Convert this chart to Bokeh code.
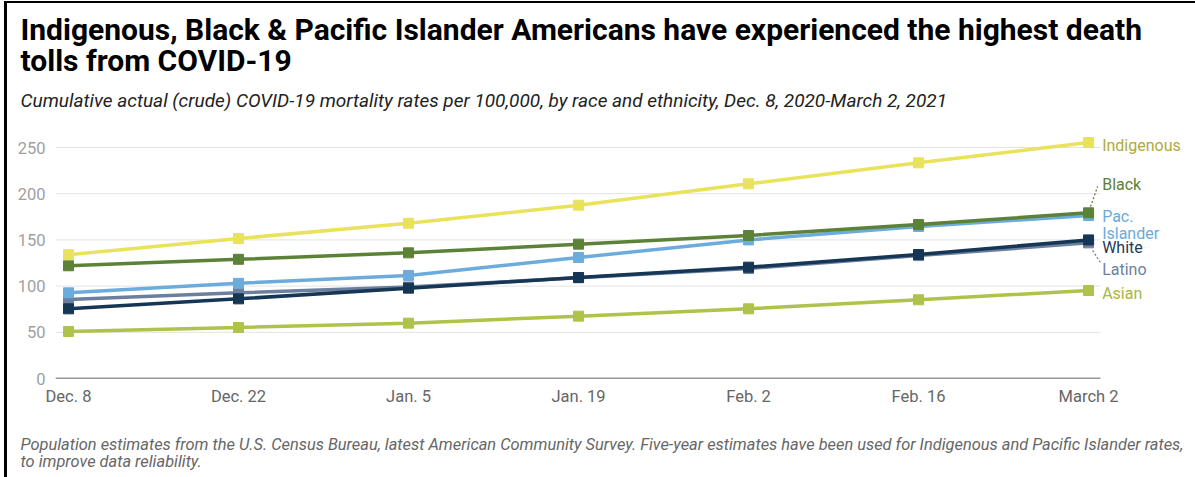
from bokeh.plotting import figure
from bokeh.models import LabelSet, ColumnDataSource, FixedTicker, Range1d, Title
from bokeh.core.properties import value
from bokeh.embed import file_html
from bokeh.resources import INLINE

dates = ["Dec. 8", "Dec. 22", "Jan. 5", "Jan. 19", "Feb. 2", "Feb. 16", "March 2"]
indigenous = [134, 151.5, 168, 187.6, 210.7, 233.4, 255.4]
black = [122, 129, 136, 145.4, 154.8, 166.7, 179.3]
pac_islander = [92.7, 103, 111.5, 131, 150, 164.5, 176.4]
latino = [85.5, 92.7, 99, 109, 119, 133, 146.8]
white = [75.4, 86.2, 97.8, 109.3, 120.5, 134.2, 150]
asian = [50.9, 55.2, 59.9, 67.5, 75.4, 85.2, 95.2]
y_ticks = [0, 50, 100, 150, 200, 250]

title_lines = ["Indigenous, Black & Pacific Islander Americans have experienced the highest death",
               "tolls from COVID-19"]
subtitle = "Cumulative actual (crude) COVID-19 mortality rates per 100,000, by race and ethnicity, Dec. 8, 2020-March 2, 2021"
footnote_lines = ["Population estimates from the U.S. Census Bureau, latest American Community Survey. Five-year estimates have been used for Indigenous and Pacific Islander rates,",
                  "to improve data reliability."]

series = [
    ("Asian", asian, "#afc24a", "#a6b840"),
    ("Latino", latino, "#6c7f9e", "#6b7fa0"),
    ("White", white, "#163656", "#1c3b5a"),
    ("Pac. Islander", pac_islander, "#6cacdd", "#6aaadb"),
    ("Black", black, "#5c8238", "#5b8138"),
    ("Indigenous", indigenous, "#e9e25c", "#b0ab3a"),
]

# label placement (positions, not data)
label_pos = {
    "Indigenous": [252.2],
    "Black": [210],
    "Pac. Islander": [175.3, 157],
    "White": [141.8],
    "Latino": [118],
    "Asian": [92],
}

W, H = 1195, 477
FL = 55              # frame left
FT = 124             # frame top
Y0_PX = 378          # pixel row of value 0
PX_PER_UNIT = 0.924
FB = 99              # bottom border (frame bottom at 378)
x = list(range(len(dates)))
X_LO, X_HI = -0.0765, 6.629
GRID_END = 6.07
Y_HI = (Y0_PX - FT) / PX_PER_UNIT

ASC, DESC = 0.928, 0.244   # Roboto metrics

p = figure(width=W, height=H, output_backend="svg", toolbar_location=None, title=None,
           x_range=Range1d(X_LO, X_HI), y_range=Range1d(0, Y_HI),
           min_border_left=FL, min_border_right=0, min_border_top=FT, min_border_bottom=FB)
p.outline_line_color = None
p.background_fill_color = "white"
p.border_fill_color = None
p.styles = {"background-color": "white",
            "box-shadow": "inset 4px 1px 0 0 white, inset 7px 3px 0 0 black"}
p.xgrid.grid_line_color = None
p.ygrid.grid_line_color = None

p.yaxis.ticker = FixedTicker(ticks=y_ticks)
p.yaxis.axis_line_color = None
p.yaxis.major_tick_line_color = None
p.yaxis.minor_tick_line_color = None
p.yaxis.major_tick_out = 0
p.yaxis.minor_tick_out = 0
p.yaxis.major_label_text_color = "#a0a0a0"
p.yaxis.major_label_text_font = "Roboto"
p.yaxis.major_label_text_font_size = "16.5px"
p.yaxis.major_label_standoff = 10

p.xaxis.ticker = FixedTicker(ticks=x)
p.xaxis.major_label_overrides = {i: d for i, d in enumerate(dates)}
p.xaxis.axis_line_color = None
p.xaxis.major_tick_line_color = None
p.xaxis.minor_tick_line_color = None
p.xaxis.major_tick_out = 0
p.xaxis.minor_tick_out = 0
p.xaxis.major_label_text_color = "#666666"
p.xaxis.major_label_text_font = "Roboto"
p.xaxis.major_label_text_font_size = "16.5px"
p.xaxis.major_label_standoff = 8

gy = y_ticks[1:]
p.segment(x0=[X_LO] * len(gy), x1=[GRID_END] * len(gy), y0=gy, y1=gy,
          line_color="#e3e3e3", line_width=1)
p.segment(x0=[X_LO], x1=[GRID_END], y0=[y_ticks[0]], y1=[y_ticks[0]],
          line_color="#333333", line_width=1.5)

for name, vals, lc, tc in series:
    p.line(x, vals, line_color=lc, line_width=3.5)
    p.scatter(x, vals, marker="square", size=10, fill_color=lc, line_color=lc)

p.segment(x0=[6.012, 6.024], y0=[186, 138.5], x1=[6.053, 6.07], y1=[207.8, 125.5],
          line_color=["#5b8138", "#6b7fa0"], line_width=1.3, line_dash="2 2")

lab_x, lab_y, lab_t, lab_c = [], [], [], []
for name, vals, lc, tc in series:
    ys = label_pos[name]
    texts = name.split(" ") if len(ys) > 1 else [name]
    for yy, tt in zip(ys, texts):
        lab_x.append(6.08)
        lab_y.append(yy)
        lab_t.append(tt)
        lab_c.append(tc)
src = ColumnDataSource(dict(x=lab_x, y=lab_y, t=lab_t, c=lab_c))
p.add_layout(LabelSet(x="x", y="y", text="t", source=src, text_color="c",
                      text_font=value("Roboto"), text_font_size=value("16px"),
                      text_baseline="middle", text_align="left"))

# ---- header titles, stacked upward from the frame top
def th(f):
    return (ASC + DESC) * f

def above_title(text, size, style, color, bottom, baseline):
    s = 2 * (bottom - (baseline + DESC * size))
    t = Title(text=text, text_font="Roboto", text_font_size=f"{size}px",
              text_font_style=style, text_color=color, align="left",
              offset=20 - FL, standoff=s)
    p.add_layout(t, "above")
    return bottom - (2 + th(size) + s)

b = FT
b = above_title(subtitle, 19, "italic", "#222222", b, 107)
b = above_title(title_lines[1], 30, "bold", "#000000", b, 71)
b = above_title(title_lines[0], 30, "bold", "#000000", b, 40)

# ---- footer: gap below the tick labels, then footnote titles stacked downward
FOOT_SIZE = 16.4
AXIS_END = 404.6      # measured bottom of the x-axis panel
FOOT_TOP = 432.6      # wanted top of first footnote panel
GAP_FONT = 10
gap = Title(text=" ", text_font="Roboto", text_font_size=f"{GAP_FONT}px",
            standoff=(FOOT_TOP - AXIS_END) - 2 - th(GAP_FONT))
p.add_layout(gap, "below")

def below_title(text, top, baseline):
    s = 2 * (baseline - top - 2 - ASC * FOOT_SIZE)
    t = Title(text=text, text_font="Roboto", text_font_size=f"{FOOT_SIZE}px",
              text_font_style="italic", text_color="#666666", align="left",
              offset=20 - FL, standoff=s)
    p.add_layout(t, "below")
    return top + 2 + th(FOOT_SIZE) + s

top_y = below_title(footnote_lines[0], FOOT_TOP, 448)
top_y = below_title(footnote_lines[1], top_y, 465)

open("out.html", "w").write(file_html(p, INLINE))
